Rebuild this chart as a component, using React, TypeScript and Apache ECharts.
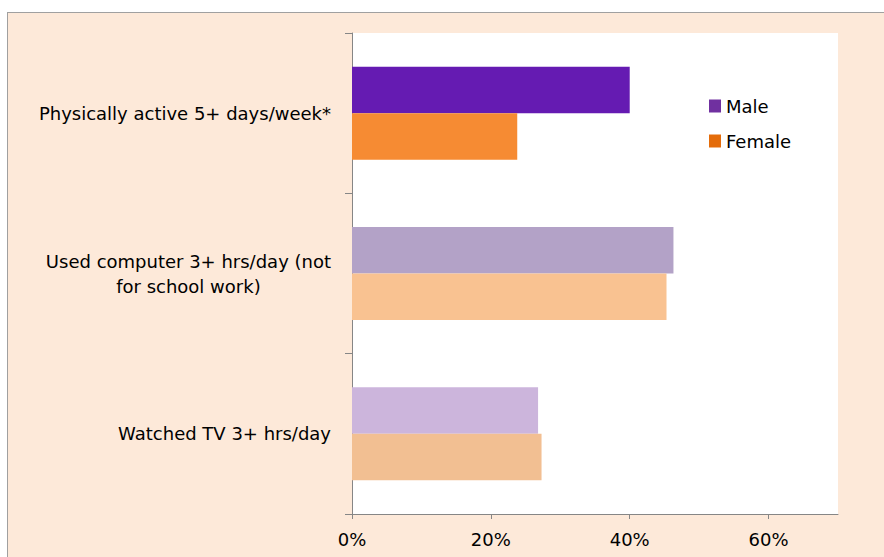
import React, { useEffect, useRef } from "react";
import * as echarts from "echarts";

const categories = [
  "Physically active 5+ days/week*",
  "Used computer 3+ hrs/day (not\nfor school work)",
  "Watched TV 3+ hrs/day",
];
const maleValues = [40.0, 46.3, 26.8];
const femaleValues = [23.8, 45.3, 27.3];
const maleColors = ["#651BB2", "#B3A2C7", "#CCB5DC"];
const femaleColors = ["#F68B33", "#F9C291", "#F2BF92"];
const xTicks = [0, 20, 40, 60];
const seriesNames = ["Male", "Female"];
const legendColors = ["#7030A0", "#E46C0A"];

const FONT = "DejaVu Sans, Verdana, sans-serif";

export default function App() {
  const ref = useRef<HTMLDivElement>(null);
  useEffect(() => {
    if (!ref.current) return;
    const chart = echarts.init(ref.current, null, { renderer: "svg" });
    chart.setOption({
      animation: false,
      textStyle: { fontFamily: FONT },
      grid: {
        left: 344,
        top: 20,
        width: 486,
        height: 481,
        backgroundColor: "#FFFFFF",
        show: true,
        borderWidth: 0,
        outerBoundsMode: "none",
        containLabel: false,
      },
      legend: {
        orient: "vertical",
        left: 696,
        top: 79,
        itemWidth: 12,
        itemHeight: 13,
        itemGap: 17,
        icon: "rect",
        textStyle: { fontSize: 18, color: "#000", fontFamily: FONT },
        data: seriesNames.map((n, i) => ({ name: n, itemStyle: { color: legendColors[i] } })),
      },
      xAxis: {
        type: "value",
        min: 0,
        max: 70,
        interval: 20,
        splitLine: { show: false },
        axisLine: { show: true, lineStyle: { color: "#868686", width: 1 } },
        axisTick: { show: true, length: 5, lineStyle: { color: "#868686" }, customValues: xTicks },
        axisLabel: {
          customValues: xTicks,
          formatter: (v: number) => `${v}%`,
          fontSize: 18,
          color: "#000",
          margin: 16,
          fontFamily: FONT,
        },
      },
      yAxis: {
        type: "category",
        inverse: true,
        data: categories,
        axisLine: { show: true, lineStyle: { color: "#868686", width: 1 } },
        axisTick: { show: true, length: 7, lineStyle: { color: "#868686" } },
        splitLine: { show: false },
        axisLabel: {
          margin: 21,
          color: "#000",
          fontSize: 18,
          fontFamily: FONT,
          formatter: (v: string) =>
            v
              .split("\n")
              .map((line) => `{c|${line}}`)
              .join("\n"),
          rich: {
            c: { align: "center", fontSize: 18, lineHeight: 25, color: "#000", fontFamily: FONT },
          },
        },
      },
      series: [
        {
          name: seriesNames[0],
          type: "bar",
          barWidth: 46.5,
          barGap: "0%",
          itemStyle: { color: legendColors[0] },
          data: maleValues.map((v, i) => ({ value: v, itemStyle: { color: maleColors[i] } })),
        },
        {
          name: seriesNames[1],
          type: "bar",
          barWidth: 46.5,
          barGap: "0%",
          itemStyle: { color: legendColors[1] },
          data: femaleValues.map((v, i) => ({ value: v, itemStyle: { color: femaleColors[i] } })),
        },
      ],
    });
    return () => chart.dispose();
  }, []);

  return (
    <div
      style={{
        position: "fixed",
        left: 0,
        top: 0,
        width: 884,
        height: 557,
        overflow: "hidden",
        background: "#FFFFFF",
      }}
    >
      <div
        ref={ref}
        style={{
          position: "absolute",
          left: 7,
          top: 12,
          width: 890,
          height: 560,
          borderLeft: "1px solid #A0A0A0",
          borderTop: "1px solid #A0A0A0",
          background: "#FDE9D9",
        }}
      />
    </div>
  );
}
